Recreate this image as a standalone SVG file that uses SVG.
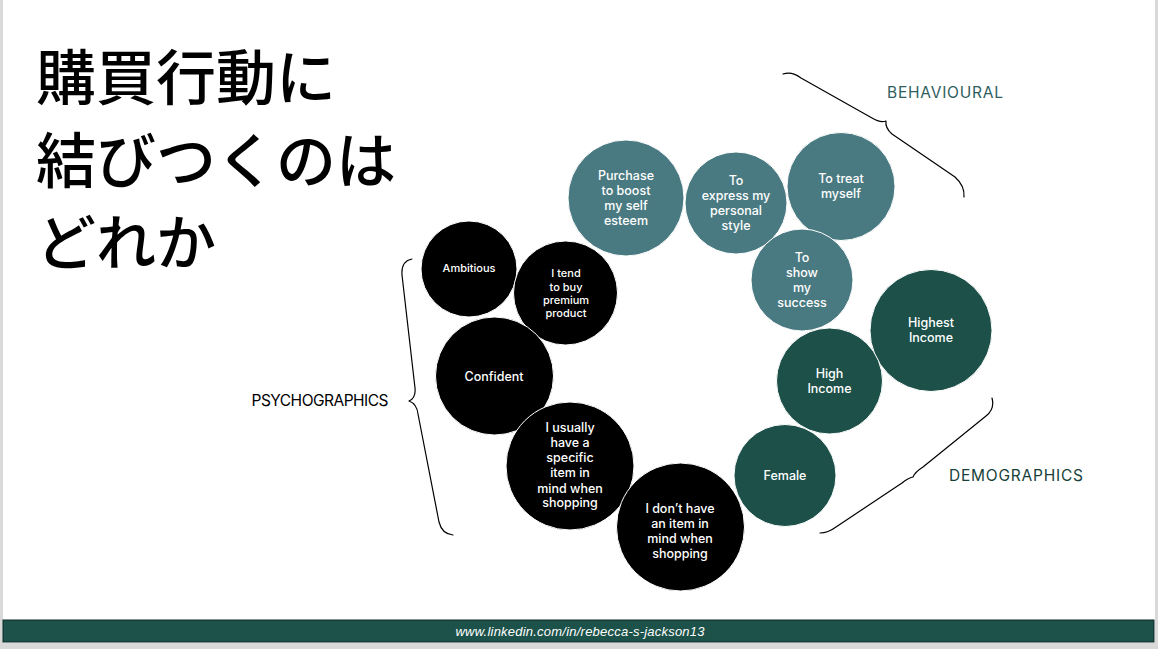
<svg xmlns="http://www.w3.org/2000/svg" width="1158" height="649" viewBox="0 0 1158 649">
<style>
.title{font-family:"Noto Sans CJK JP","Noto Sans",sans-serif;font-size:60px;font-weight:500;fill:#000;}
.beh{fill:#4a7a81;stroke:#fff;stroke-width:1;}
.dem{fill:#1c5048;stroke:#fff;stroke-width:1;}
.psy{fill:#000;stroke:#fff;stroke-width:1;}
.t{font-family:Inter,"DejaVu Sans",sans-serif;font-size:12.5px;font-weight:500;fill:#fff;text-anchor:middle;}
.ts{font-size:11px;}
.lab{font-family:Inter,"DejaVu Sans",sans-serif;font-size:15.5px;}
.brace{fill:none;stroke:#000;stroke-width:1.2;stroke-linecap:round;stroke-linejoin:round;}
</style>
<rect width="1158" height="649" fill="#d9d9d9"/>
<rect x="3" y="0" width="1152" height="643" fill="#fff"/>
<g id="title">
<text class="title" x="36" y="100">購買行動に</text>
<text class="title" x="36" y="183">結びつくのは</text>
<text class="title" x="36" y="265">どれか</text>
</g>
<g id="connectors">
<path class="brace" d="M412 259 Q401 261 402 275 L415 388 Q416 398 409 401 Q417 404 418 414 L439 522 Q442 534 453 535"/>
<path class="brace" d="M783 74 Q792 71 801 78 L872 118 Q880 123 886 121 Q885 128 892 134 L955 177 Q965 186 964 197"/>
<path class="brace" d="M992 398 Q995 409 986 416 L923 467 Q915 472 913 477 Q908 478 902 483 L836 527 Q828 533 820 533"/>
</g>
<g id="label-behavioural"><text class="lab" x="945" y="98" text-anchor="middle" fill="#2e5e5e" textLength="116">BEHAVIOURAL</text></g>
<g id="label-demographics"><text class="lab" x="1016" y="481" text-anchor="middle" fill="#173f3a" textLength="134">DEMOGRAPHICS</text></g>
<g id="label-psychographics"><text class="lab" x="320" y="406" text-anchor="middle" fill="#000" font-size="14.5" textLength="137">PSYCHOGRAPHICS</text></g>
<g id="n-purchase"><circle class="beh" cx="626" cy="198" r="58"/>
<text class="t" x="626" y="180">Purchase</text><text class="t" x="626" y="195">to boost</text><text class="t" x="626" y="210">my self</text><text class="t" x="626" y="225">esteem</text></g>
<g id="n-express"><circle class="beh" cx="736" cy="203" r="51"/>
<text class="t" x="736" y="185">To</text><text class="t" x="736" y="200">express my</text><text class="t" x="736" y="215">personal</text><text class="t" x="736" y="230">style</text></g>
<g id="n-treat"><circle class="beh" cx="841" cy="186.5" r="54"/>
<text class="t" x="841" y="183">To treat</text><text class="t" x="841" y="198">myself</text></g>
<g id="n-success"><circle class="beh" cx="802" cy="280" r="51"/>
<text class="t" x="802" y="262">To</text><text class="t" x="802" y="277">show</text><text class="t" x="802" y="292">my</text><text class="t" x="802" y="307">success</text></g>
<g id="n-highest"><circle class="dem" cx="931" cy="330.5" r="61"/>
<text class="t" x="931" y="327">Highest</text><text class="t" x="931" y="342">Income</text></g>
<g id="n-high"><circle class="dem" cx="829.5" cy="381" r="53"/>
<text class="t" x="829.5" y="378">High</text><text class="t" x="829.5" y="393">Income</text></g>
<g id="n-female"><circle class="dem" cx="785" cy="475.5" r="51"/>
<text class="t" x="785" y="480">Female</text></g>
<g id="n-ambitious"><circle class="psy" cx="469" cy="269" r="48"/>
<text class="t ts" x="469" y="272">Ambitious</text></g>
<g id="n-premium"><circle class="psy" cx="565.5" cy="293" r="52"/>
<text class="t ts" x="566" y="277">I tend</text><text class="t ts" x="566" y="291">to buy</text><text class="t ts" x="566" y="304">premium</text><text class="t ts" x="566" y="317">product</text></g>
<g id="n-confident"><circle class="psy" cx="494.5" cy="376" r="59"/>
<text class="t" x="494" y="381" font-size="13.5">Confident</text></g>
<g id="n-usually"><circle class="psy" cx="570" cy="466" r="64"/>
<text class="t" x="570" y="432">I usually</text><text class="t" x="570" y="447">have a</text><text class="t" x="570" y="462">specific</text><text class="t" x="570" y="477">item in</text><text class="t" x="570" y="493">mind when</text><text class="t" x="570" y="507">shopping</text></g>
<g id="n-donthave"><circle class="psy" cx="680.5" cy="527" r="64"/>
<text class="t" x="680" y="513">I don’t have</text><text class="t" x="680" y="528">an item in</text><text class="t" x="680" y="543">mind when</text><text class="t" x="680" y="558">shopping</text></g>
<g id="footer">
<rect x="3" y="620" width="1151" height="22" fill="#1c5249" stroke="#0d2a26" stroke-width="1"/>
<text x="580" y="636" text-anchor="middle" font-family="Liberation Sans Narrow,Liberation Sans,sans-serif" font-style="italic" font-size="13" fill="#fff" textLength="249">www.linkedin.com/in/rebecca-s-jackson13</text>
</g>
</svg>
